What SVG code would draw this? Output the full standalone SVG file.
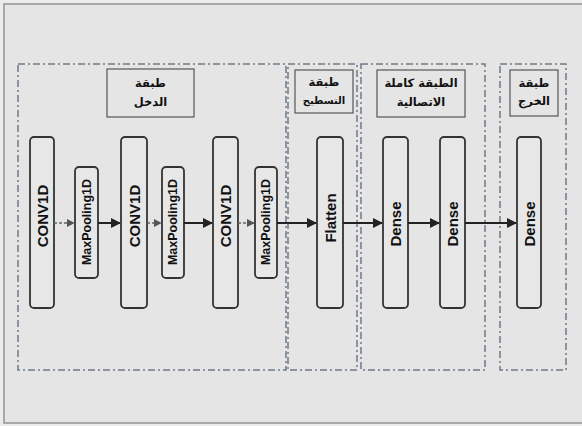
<svg xmlns="http://www.w3.org/2000/svg" width="582" height="426" viewBox="0 0 582 426">
<style>
.bg{fill:#e5e5e5}
.frame{fill:none;stroke:#a8a8a8;stroke-width:2}
.sec{fill:none;stroke:#6e7a88;stroke-width:1.5;stroke-dasharray:7 3 2 3}
.title{fill:none;stroke:#555;stroke-width:1.2}
.ttl{font-family:"DejaVu Sans","Noto Sans",sans-serif;font-weight:bold;font-size:11.5px;fill:#111;text-anchor:middle}
.box{fill:#e7e7e7;stroke:#333;stroke-width:1.8}
.lbl{font-family:"Liberation Sans",Arial,sans-serif;font-weight:bold;fill:#111;text-anchor:middle;dominant-baseline:central}
.big{font-size:15px}
.small{font-size:12.5px}
.solid{fill:none;stroke:#222;stroke-width:2;marker-end:url(#ah)}
.dash{fill:none;stroke:#666;stroke-width:1.3;stroke-dasharray:3 2;marker-end:url(#ahs)}
</style>
<defs>
<marker id="ah" viewBox="0 0 10 10" refX="9" refY="5" markerWidth="5" markerHeight="5" orient="auto" markerUnits="strokeWidth"><path d="M0,0 L10,5 L0,10 Z" fill="#222"/></marker>
<marker id="ahs" viewBox="0 0 10 10" refX="9" refY="5" markerWidth="6" markerHeight="6" orient="auto" markerUnits="strokeWidth"><path d="M0,0 L10,5 L0,10 Z" fill="#555"/></marker>
</defs>
<rect x="0" y="0" width="582" height="426" fill="#ececec"/>
<rect class="bg" x="4" y="4" width="600" height="419"/>
<rect class="frame" x="4" y="4" width="600" height="419"/>

<g id="sections">
<rect class="sec" x="18" y="64" width="268" height="306"/>
<rect class="sec" x="288" y="64" width="69" height="306"/>
<rect class="sec" x="361" y="64" width="124" height="306"/>
<rect class="sec" x="500" y="64" width="66" height="306"/>
</g>

<g id="title-input">
<rect class="title" x="107" y="69" width="87" height="48"/>
<text class="ttl" x="150.5" y="87">طبقة</text>
<text class="ttl" x="150.5" y="106">الدخل</text>
</g>
<g id="title-flatten">
<rect class="title" x="295" y="70" width="58" height="43"/>
<text class="ttl" x="324" y="86">طبقة</text>
<text class="ttl" x="324" y="104" style="font-size:10px">التسطيح</text>
</g>
<g id="title-dense">
<rect class="title" x="377" y="70" width="88" height="47"/>
<text class="ttl" x="421" y="87">الطبقة كاملة</text>
<text class="ttl" x="421" y="106">الاتصالية</text>
</g>
<g id="title-output">
<rect class="title" x="510" y="70" width="48" height="46"/>
<text class="ttl" x="534" y="87">طبقة</text>
<text class="ttl" x="534" y="105">الخرج</text>
</g>

<g id="conv1"><rect class="box" x="30" y="137" width="24" height="171" rx="4"/><text class="lbl big" transform="translate(42,216) rotate(-90)">CONV1D</text></g>
<g id="pool1"><rect class="box" x="75" y="167" width="23" height="111" rx="4"/><text class="lbl small" transform="translate(86.5,222) rotate(-90)">MaxPooling1D</text></g>
<g id="conv2"><rect class="box" x="121" y="137" width="26" height="171" rx="4"/><text class="lbl big" transform="translate(134,216) rotate(-90)">CONV1D</text></g>
<g id="pool2"><rect class="box" x="162" y="167" width="22" height="111" rx="4"/><text class="lbl small" transform="translate(173,222) rotate(-90)">MaxPooling1D</text></g>
<g id="conv3"><rect class="box" x="213" y="137" width="25" height="171" rx="4"/><text class="lbl big" transform="translate(225.5,216) rotate(-90)">CONV1D</text></g>
<g id="pool3"><rect class="box" x="255" y="167" width="22" height="111" rx="4"/><text class="lbl small" transform="translate(266,222) rotate(-90)">MaxPooling1D</text></g>
<g id="flatten"><rect class="box" x="317" y="137" width="26" height="171" rx="4"/><text class="lbl big" transform="translate(330,218) rotate(-90)">Flatten</text></g>
<g id="dense1"><rect class="box" x="383" y="137" width="25" height="171" rx="4"/><text class="lbl big" transform="translate(395.5,224) rotate(-90)">Dense</text></g>
<g id="dense2"><rect class="box" x="440" y="137" width="25" height="171" rx="4"/><text class="lbl big" transform="translate(452.5,224) rotate(-90)">Dense</text></g>
<g id="dense3"><rect class="box" x="517" y="137" width="24" height="171" rx="4"/><text class="lbl big" transform="translate(529,224) rotate(-90)">Dense</text></g>

<g id="connectors">
<line class="dash" x1="54" y1="223" x2="74" y2="223"/>
<line class="solid" x1="98" y1="223" x2="120" y2="223"/>
<line class="dash" x1="147" y1="223" x2="161" y2="223"/>
<line class="solid" x1="184" y1="223" x2="212" y2="223"/>
<line class="dash" x1="238" y1="223" x2="254" y2="223"/>
<line class="solid" x1="277" y1="223" x2="316" y2="223"/>
<line class="solid" x1="343" y1="223" x2="382" y2="223"/>
<line class="solid" x1="408" y1="223" x2="439" y2="223"/>
<line class="solid" x1="465" y1="223" x2="516" y2="223"/>
</g>
</svg>
